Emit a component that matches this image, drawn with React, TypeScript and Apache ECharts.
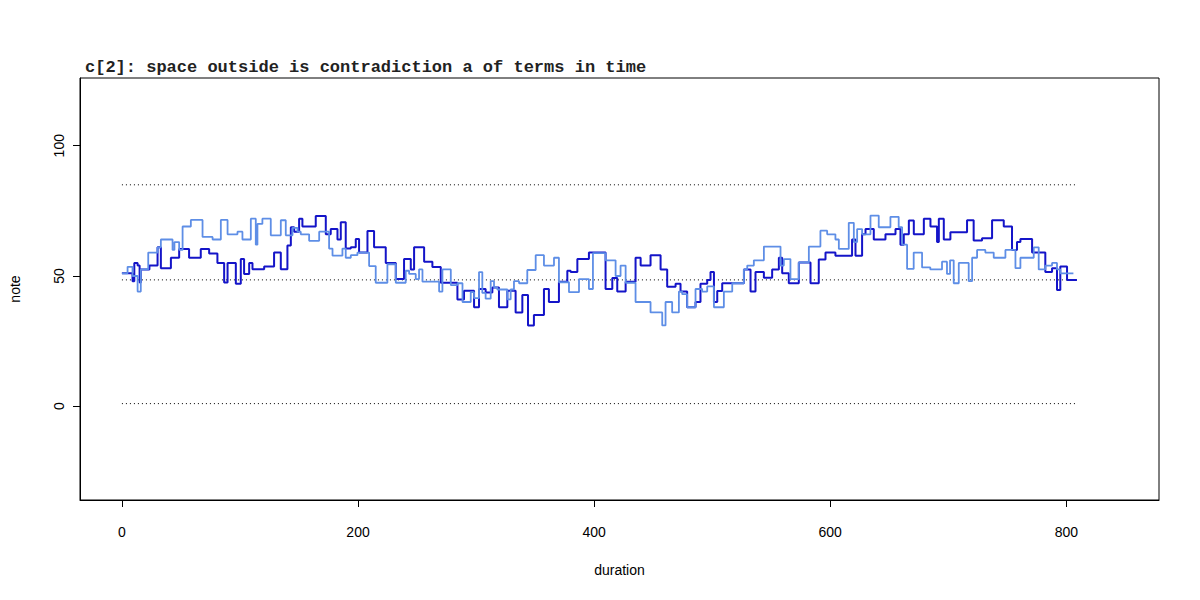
import React, { useEffect, useRef } from "react";
import * as echarts from "echarts";

const titleText = "c[2]: space outside is contradiction a of terms in time";
const xTicks = [0, 200, 400, 600, 800];
const yTicks = [0, 50, 100];
const refLevels = [1, 48.5, 85];
const refSpan = [0, 808];

const lightSteps: [number, number][] = [
  [0, 51], [4.8, 53.5], [9, 50], [13.3, 44], [16, 52.5], [22.3, 59], [30.2, 61], [33, 64], [42.9, 60], [44.5, 63],
  [48.5, 60], [51.4, 69], [58.4, 71.5], [68.3, 65], [76.8, 64], [83.8, 71.5], [89.5, 66], [97.9, 67], [102.1, 64],
  [109.2, 72], [113.4, 62], [114.8, 70], [119, 72], [126.1, 65.6], [134.6, 71.4], [138.8, 65.6], [144.5, 68.5],
  [148.7, 67], [151.5, 66], [158.6, 63.5], [167.1, 67], [175.5, 60.5], [178.4, 57.8], [186.8, 60.5], [189.6, 57],
  [193.9, 58], [199.5, 59], [209.4, 53.8], [215, 47.4], [224.9, 54.5], [232, 47.4], [240.4, 52], [243.3, 50.8],
  [248.9, 48.8], [251.7, 52.5], [254.6, 47.8], [268.7, 44], [271.5, 52.5], [278.6, 46.5], [284.2, 47.2], [288.5, 40],
  [295.5, 43.8], [298.3, 41.5], [302.5, 51.5], [305.3, 43.5], [308.1, 41.3], [312.4, 48], [315.2, 45.6], [318, 44.8],
  [326.5, 41], [329.3, 44.8], [332.1, 48], [336.4, 47.2], [343.4, 52.3], [350.5, 58], [357.5, 54], [366, 57],
  [370.2, 47.6], [378.7, 43.8], [387.2, 48.8], [395.6, 45], [399, 58.8], [409.7, 56], [418.2, 50], [422.4, 54],
  [426.7, 47.4], [435.1, 40], [447.8, 36], [457.7, 31], [460.5, 40], [466.1, 36], [471.8, 44], [474.6, 43],
  [478.8, 38], [485.9, 45], [491.5, 44], [495.8, 46], [501.5, 38], [509.9, 44], [517, 47.2], [526.9, 52.5],
  [529.7, 54], [535.3, 56], [543.8, 61.3], [557.9, 54], [560.7, 56.5], [566.3, 48.8], [573.4, 55.2], [581.9, 61.3],
  [591.7, 67.4], [597.4, 66], [604.4, 64], [607.3, 60.4], [615.7, 70.4], [620, 63], [622.8, 68], [627, 66],
  [634.1, 73.2], [641.1, 68.7], [651, 72.7], [658, 68.7], [660.9, 62], [665.1, 52.7], [670.7, 59], [677.8, 53.3],
  [684.8, 52.5], [694.7, 55.5], [698.9, 50.8], [701.5, 56], [704.6, 47.2], [708.9, 55], [717.3, 48], [720.2, 57],
  [724.4, 60], [731.4, 59], [738.5, 57], [748.4, 60], [756.9, 53], [761.1, 57], [772.4, 61], [776.6, 52.5],
  [782.2, 54], [787.9, 55], [792.1, 52.5], [794.9, 51], [806, 51],
];

const darkSteps: [number, number][] = [
  [0, 51], [9, 48], [10.5, 55], [13.3, 54], [15, 47.5], [16, 52.5], [23.3, 54], [30.2, 61], [33, 53], [41.5, 57],
  [48.5, 60.4], [56.9, 57], [66.8, 60.4], [73.9, 58.6], [80.9, 55], [86.6, 47.5], [89.5, 55], [96.5, 47],
  [100.7, 56.5], [103.5, 50.8], [107.8, 55], [110.6, 52.6], [120.5, 53.6], [128.9, 59], [134.6, 52.6],
  [140.2, 61.7], [143.1, 68.7], [145.9, 67], [150.1, 72], [152.9, 69], [164.2, 73], [172.7, 66], [176.9, 68],
  [182.6, 64], [185.4, 70.6], [189.6, 60.5], [193.9, 61], [198.1, 64.2], [200.9, 59], [208, 67.3], [213.6, 61],
  [223.5, 55], [232, 48.8], [239, 56.5], [244.7, 52.5], [247.5, 61], [256, 55.5], [263, 53.4], [270.1, 47.4],
  [284.2, 41], [289.8, 44.3], [298.3, 38], [302.5, 45], [308.1, 43.7], [313.8, 45.6], [319.4, 38], [326.5, 44.3],
  [333.5, 36], [339.2, 42.7], [344, 31], [349, 35], [357.5, 45], [361.7, 40], [370.2, 47.8], [377.3, 52],
  [380.1, 51.5], [385.8, 56.5], [395.6, 59], [409.7, 45], [415.4, 49.2], [419.6, 44], [426.7, 47.8], [435.1, 57],
  [439.4, 54], [447.8, 58], [456.3, 52.5], [461.9, 45.9], [469, 47], [473.2, 44], [478.8, 38], [485.9, 40],
  [490.1, 47], [495.8, 48.5], [498.6, 51.5], [501.5, 40], [504.3, 44.2], [508.5, 47.2], [526.9, 52.5],
  [532.5, 44], [536.7, 51.5], [543.8, 49.3], [550.8, 52.5], [556.5, 57], [559.3, 51], [564.9, 47.2],
  [573.4, 55.2], [583.3, 47.2], [590.3, 56.3], [596, 59], [604.4, 57.8], [618.5, 64], [621.4, 57.8], [627, 66],
  [629.9, 68], [636.9, 64], [646.8, 66], [655.3, 68], [659.5, 62], [662.3, 66], [666.6, 71.3], [670.8, 66],
  [679.3, 72], [684.9, 69], [690.5, 63], [692, 72], [696.2, 64], [701.8, 66.8], [715.9, 71.4], [721.5, 63.6],
  [728.6, 64.5], [737.1, 71.4], [747, 69], [754, 60], [758.2, 63], [761.1, 64.2], [771, 59], [782.2, 51.5],
  [787.9, 53], [792.1, 44.6], [794.9, 53.6], [800.6, 48.5], [809, 48.5],
];

const axisFont = "'Liberation Sans', Arial, sans-serif";

export default function App() {
  const ref = useRef<HTMLDivElement>(null);
  useEffect(() => {
    if (!ref.current) return;
    const chart = echarts.init(ref.current, null, { renderer: "svg" });
    const refSeries = refLevels.map((lv) => ({
      type: "line",
      data: refSpan.map((x) => [x, lv]),
      symbol: "none",
      silent: true,
      lineStyle: { color: "#000", width: 1, type: [1, 3] },
      z: 1,
    }));
    chart.setOption({
      animation: false,
      backgroundColor: "#fff",
      title: {
        text: titleText,
        left: 80,
        top: 54,
        textStyle: {
          fontFamily: "'Liberation Mono', 'Courier New', monospace",
          fontWeight: "bold",
          fontSize: 17,
          color: "#222",
        },
      },
      grid: {
        left: 79,
        right: 41,
        top: 78,
        bottom: 100,
        show: true,
        borderColor: "#000",
        borderWidth: 1,
        backgroundColor: "transparent",
      },
      xAxis: {
        type: "value",
        min: -35.5,
        max: 878.5,
        name: "duration",
        nameLocation: "middle",
        nameGap: 63,
        nameTextStyle: { fontFamily: axisFont, fontSize: 14, color: "#000" },
        splitLine: { show: false },
        axisLine: { show: true, onZero: false, lineStyle: { color: "#000" } },
        axisTick: { show: true, inside: false, length: 7, customValues: xTicks, lineStyle: { color: "#000" } },
        axisLabel: {
          customValues: xTicks,
          margin: 25,
          fontFamily: axisFont,
          fontSize: 14,
          color: "#000",
        },
      },
      yAxis: {
        type: "value",
        min: -36,
        max: 126,
        name: "note",
        nameLocation: "middle",
        nameGap: 58,
        nameRotate: 90,
        nameTextStyle: { fontFamily: axisFont, fontSize: 14, color: "#000" },
        splitLine: { show: false },
        axisLine: { show: true, onZero: false, lineStyle: { color: "#000" } },
        axisTick: { show: true, inside: false, length: 7, customValues: yTicks, lineStyle: { color: "#000" } },
        axisLabel: {
          customValues: yTicks,
          rotate: 90,
          margin: 14,
          fontFamily: axisFont,
          fontSize: 14,
          color: "#000",
        },
      },
      series: [
        ...refSeries,
        {
          type: "line",
          name: "dark",
          step: "end",
          data: darkSteps,
          symbol: "none",
          lineStyle: { color: "#1414C8", width: 2 },
          z: 2,
        },
        {
          type: "line",
          name: "light",
          step: "end",
          data: lightSteps,
          symbol: "none",
          lineStyle: { color: "#5E8EE6", width: 1.8 },
          z: 3,
        },
      ],
    });
    return () => chart.dispose();
  }, []);
  return <div ref={ref} style={{ width: 1200, height: 600, margin: -8 }} />;
}
